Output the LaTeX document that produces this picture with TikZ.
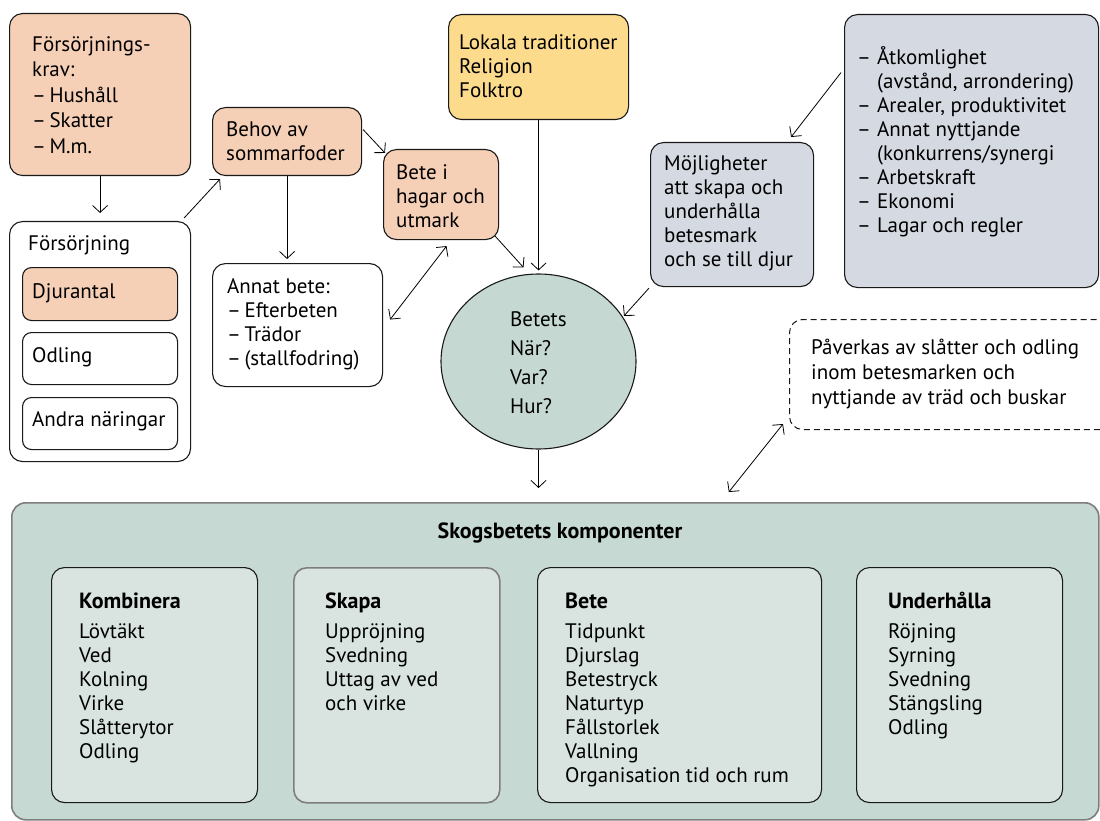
\documentclass[tikz,border=0pt]{standalone}
\usepackage{fontspec}
\setmainfont{PT Sans}
\usetikzlibrary{arrows.meta,shapes.geometric}

\definecolor{peach}{HTML}{F5CFB6}
\definecolor{straw}{HTML}{FDDB8D}
\definecolor{slate}{HTML}{D5D9E2}
\definecolor{sage}{HTML}{C5D8D1}
\definecolor{sageback}{HTML}{C6D9D3}
\definecolor{sagelight}{HTML}{D9E4E1}
\definecolor{frame}{HTML}{7E7E7E}

\newcommand\headfont{\fontsize{22}{24}\selectfont\bfseries}
% list dash with a tight gap after it
\newcommand\ldash{–\hspace{3.5pt}}
% list dash in a fixed-width tab column
\newcommand\tdash{\makebox[20pt][l]{–}}
\newcommand\tskip{\makebox[20pt][l]{}}

\tikzset{
  box/.style={draw=black!90, line width=1.1pt, rounded corners=13pt,
    anchor=north west, inner sep=0pt},
  txt/.style={anchor=west, align=left, inner sep=0pt,
    font=\fontsize{21}{24}\selectfont},
  toptxt/.style={txt, anchor=north west},
  arr/.style={-{Straight Barb[length=7pt,width=15pt]}, line width=0.8pt},
  dbl/.style={{Straight Barb[length=7pt,width=15pt]}-{Straight Barb[length=7pt,width=15pt]},
    line width=0.8pt},
}

\begin{document}
\begin{tikzpicture}[x=1pt, y=-1pt]
\useasboundingbox (0,0) rectangle (1100,821);
\clip (0,0) rectangle (1100,821);

% ---- upper left: needs and livelihood ----
\node[box, fill=peach, minimum width=181pt, minimum height=162pt] (A) at (9,13) {};
\node[txt, font=\fontsize{21}{25.6}\selectfont] (Atxt) at (32,95)
  {Försörjnings-\\krav:\\\ldash Hushåll\\\ldash Skatter\\\ldash M.m.};

\node[box, fill=white, minimum width=181pt, minimum height=240pt] (B) at (9,221) {};
\node[txt] (Btxt) at (28,245) {Försörjning};
\node[box, rounded corners=9pt, fill=peach, minimum width=155pt, minimum height=53pt] (B1) at (22,267) {};
\node[txt] (B1txt) at (32,293) {Djurantal};
\node[box, rounded corners=9pt, fill=white, minimum width=155pt, minimum height=52pt] (B2) at (22,332) {};
\node[txt] (B2txt) at (32,357) {Odling};
\node[box, rounded corners=9pt, fill=white, minimum width=155pt, minimum height=52pt] (B3) at (22,397) {};
\node[txt] (B3txt) at (32,421) {Andra näringar};

\node[box, fill=peach, minimum width=149pt, minimum height=68pt] (Behov) at (212,107) {};
\node[txt] (Behovtxt) at (226,141) {Behov av\\sommarfoder};

\node[box, fill=white, minimum width=170pt, minimum height=123pt] (Annat) at (212,263) {};
\node[txt] (Annattxt) at (227,324) {Annat bete:\\\ldash Efterbeten\\\ldash Trädor\\\ldash (stallfodring)};

\node[box, fill=peach, minimum width=115pt, minimum height=90pt] (Hage) at (383,149) {};
\node[txt] (Hagetxt) at (396,196) {Bete i\\hagar och\\utmark};

% ---- upper middle and right ----
\node[box, fill=straw, minimum width=180pt, minimum height=105pt] (Lokal) at (448,14) {};
\node[txt] (Lokaltxt) at (459,66) {Lokala traditioner\\Religion\\Folktro};

\node[box, fill=slate, minimum width=163pt, minimum height=144pt] (Moj) at (650,142) {};
\node[txt] (Mojtxt) at (664,213) {Möjligheter\\att skapa och\\underhålla\\betesmark\\och se till djur};

\node[box, fill=slate, minimum width=254pt, minimum height=273pt] (Villkor) at (844,14) {};
\node[txt] (Villkortxt) at (857,142)
  {\tdash Åtkomlighet\\
   \tskip (avstånd, arrondering)\\
   \tdash Arealer, produktivitet\\
   \tdash Annat nyttjande\\
   \tskip (konkurrens/synergi\\
   \tdash Arbetskraft\\
   \tdash Ekonomi\\
   \tdash Lagar och regler};

% ---- centre ellipse ----
\node[draw=black!90, line width=1.1pt, fill=sage, ellipse, minimum width=195pt,
  minimum height=175pt, inner sep=0pt] (Ell) at (538.5,361.5) {};
\node[txt, font=\fontsize{21}{29}\selectfont] (Elltxt) at (510,363) {Betets\\När?\\Var?\\Hur?};

% ---- dashed note ----
\node[box, draw=black!90, line width=1pt, dash pattern=on 6pt off 4pt, fill=white,
  minimum width=330pt, minimum height=110pt] (Note) at (789,319) {};
\node[txt, font=\fontsize{21}{25}\selectfont] (Notetxt) at (811,374)
  {Påverkas av slåtter och odling\\inom betesmarken och\\nyttjande av träd och buskar};

% ---- components panel ----
\node[box, draw=frame, line width=1.6pt, fill=sageback, rounded corners=14pt,
  minimum width=1087pt, minimum height=317pt] (Big) at (11,502) {};
\node[inner sep=0pt, font=\headfont] (Bigtxt) at (560,533)
  {Skogsbetets komponenter};

\node[box, fill=sagelight, minimum width=206pt, minimum height=235pt] (K1) at (51,567) {};
\node[toptxt] (K1txt) at (79,593)
  {{\headfont Kombinera}\\[5.5pt]Lövtäkt\\Ved\\Kolning\\Virke\\Slåtterytor\\Odling};

\node[box, draw=frame, line width=1.6pt, fill=sagelight, minimum width=206pt, minimum height=235pt] (K2) at (293,567) {};
\node[toptxt] (K2txt) at (325,593)
  {{\headfont Skapa}\\[5.5pt]Uppröjning\\Svedning\\Uttag av ved\\och virke};

\node[box, fill=sagelight, minimum width=284pt, minimum height=235pt] (K3) at (537,567) {};
\node[toptxt] (K3txt) at (565,593)
  {{\headfont Bete}\\[5.5pt]Tidpunkt\\Djurslag\\Betestryck\\Naturtyp\\Fållstorlek\\Vallning\\Organisation tid och rum};

\node[box, fill=sagelight, minimum width=206pt, minimum height=235pt] (K4) at (856,567) {};
\node[toptxt] (K4txt) at (888,592)
  {{\headfont Underhålla}\\[5.5pt]Röjning\\Syrning\\Svedning\\Stängsling\\Odling};

% ---- connectors ----
\draw[arr, shorten >=8pt] (A.south) -- (A.south |- B.north);
\draw[arr] ([shift={(-7pt,3pt)}]B.north east) -- ([shift={(8pt,-3pt)}]Behov.south west);
\draw[arr] ([shift={(1pt,12pt)}]Behov.east) -- ([shift={(2pt,-4pt)}]Hage.north west);
\draw[arr, shorten >=4pt] (Behov.south) -- (Behov.south |- Annat.north);
\draw[dbl] ([shift={(7pt,5.5pt)}]Annat.east) -- ([shift={(5.5pt,-6pt)}]Hage.south);
\draw[arr] ([shift={(-4pt,4pt)}]Hage.south east) -- ([shift={(-15pt,6pt)}]Ell.north);
\draw[arr, shorten >=3pt] (Lokal.south) -- (Lokal.south |- Ell.north);
\draw[arr] ([shift={(-1pt,-1pt)}]Moj.south west) -- ([shift={(3pt,-2pt)}]Ell.30);
\draw[arr] ([shift={(-3pt,78.5pt)}]Villkor.west) -- ([shift={(-23pt,5pt)}]Moj.north east);
\draw[arr, shorten >=14pt] (Ell.south) -- (Ell.south |- Big.north);
\draw[dbl] ([shift={(173.5pt,10pt)}]Big.north) -- ([shift={(-6pt,6pt)}]Note.south west);
\end{tikzpicture}
\end{document}
